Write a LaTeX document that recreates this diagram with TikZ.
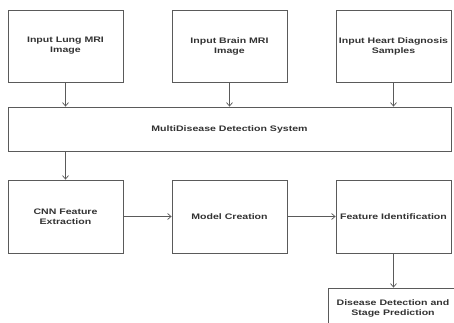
\documentclass[tikz,border=0pt]{standalone}
\usepackage{fontspec}
\setmainfont{Liberation Sans}
\newfontfamily\labfont[FakeStretch=1.32]{Liberation Sans}
\usetikzlibrary{arrows.meta}
\definecolor{edge}{HTML}{5A5A5A}
\definecolor{txt}{HTML}{333333}
\tikzset{
  box/.style={draw=edge, line width=0.8pt, fill=white, minimum width=115pt, minimum height=72pt,
    align=center, inner sep=1pt, text=txt, font=\labfont\bfseries\fontsize{8}{10}\selectfont},
  conn/.style={draw=edge, line width=0.7pt, -{Straight Barb[length=3.5pt,width=6pt]}}
}
\begin{document}
\begin{tikzpicture}[x=1pt,y=-1pt]
\useasboundingbox (0,0) rectangle (454,322);
\clip (0,0) rectangle (454,322);
\fill[white] (0,0) rectangle (454,322);
\node[box] (lung) at (65.5,46) {Input Lung MRI\\Image};
\node[box] (brain) at (229.5,46) {Input Brain MRI\\Image};
\node[box] (heart) at (393.5,46) {Input Heart Diagnosis\\Samples};
\node[box, minimum width=443pt, minimum height=44pt] (sys) at (229.5,129) {MultiDisease Detection System};
\node[box, minimum height=73pt] (cnn) at (65.5,216.5) {CNN Feature\\Extraction};
\node[box, minimum height=73pt] (model) at (229.5,216.5) {Model Creation};
\node[box, minimum height=73pt] (feat) at (393.5,216.5) {Feature Identification};
\node[box, minimum width=130pt, minimum height=40pt] (dis) at (393,308) {Disease Detection and\\Stage Prediction};
\draw[conn] (lung.south) -- (lung.south |- sys.north);
\draw[conn] (brain.south) -- (brain.south |- sys.north);
\draw[conn] (heart.south) -- (heart.south |- sys.north);
\draw[conn] (cnn.north |- sys.south) -- (cnn.north);
\draw[conn] (cnn.east) -- (model.west);
\draw[conn] (model.east) -- (feat.west);
\draw[conn] (feat.south) -- (feat.south |- dis.north);
\end{tikzpicture}
\end{document}
